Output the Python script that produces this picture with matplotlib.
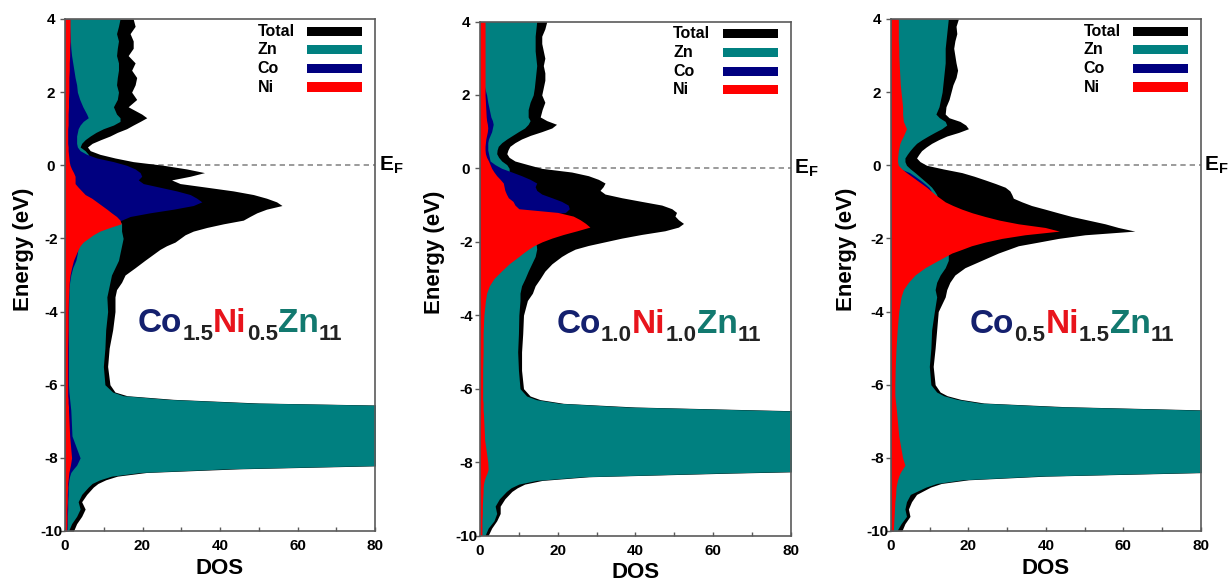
import numpy as np
import matplotlib
matplotlib.use("Agg")
import matplotlib.pyplot as plt
from matplotlib.patches import Rectangle
from matplotlib.transforms import IdentityTransform

plt.rcParams['font.family'] = ['Liberation Sans', 'DejaVu Sans']
plt.rcParams['font.weight'] = 'bold'
plt.rcParams['axes.unicode_minus'] = False
plt.rcParams['mathtext.fontset'] = 'custom'
plt.rcParams['mathtext.bf'] = 'Liberation Sans:bold'
plt.rcParams['mathtext.rm'] = 'Liberation Sans:bold'

# ---------------- data ----------------
energy = [4.0, 3.8, 3.6, 3.4, 3.2, 3.0, 2.8, 2.6, 2.4, 2.2, 2.0, 1.8, 1.6, 1.4,
          1.3, 1.2, 1.1, 1.0, 0.9, 0.8, 0.7, 0.6, 0.5, 0.4,
          0.3, 0.2, 0.1, 0.0, -0.1, -0.2, -0.3, -0.4, -0.5, -0.6,
          -0.7, -0.8, -0.9, -1.0, -1.1, -1.2, -1.3, -1.4, -1.5, -1.6,
          -1.7, -1.8, -1.9, -2.0, -2.1, -2.2, -2.3, -2.4,
          -2.6, -2.8, -3.0, -3.2, -3.4, -3.6,
          -4.0, -4.5, -5.0, -5.5, -6.0,
          -6.2, -6.3, -6.4, -6.5, -6.6, -6.7,
          -7.4, -8.0,
          -8.2, -8.3, -8.4, -8.5, -8.6, -8.7, -8.8,
          -9.0, -9.2, -9.4, -9.6, -9.8, -10.0]

# Panel 1: Co1.5Ni0.5Zn11
p1_total = [17.6, 18.1, 16.8, 17.6, 17.6, 16.3, 18.1, 17.2, 18.5, 18.1, 17.2, 18.5, 16.3, 19.8,
            21.1, 19.4, 17.6, 15.9, 13.5, 11.6, 9.2, 7.0, 5.8, 6.5,
            9.0, 12.9, 17.6, 25.4, 31.4, 36.0, 32.3, 27.5, 29.7, 36.6,
            43.4, 48.6, 52.0, 54.6, 56.0, 52.0, 49.5, 47.7, 46.0, 40.9,
            36.6, 33.1, 31.0, 29.7, 28.4, 26.2, 24.5, 23.2,
            20.6, 18.1, 15.5, 14.6, 13.3, 12.9,
            12.9, 12.3, 11.4, 11.0, 11.6,
            12.9, 16.0, 28.0, 50.0, 105, 150,
            220, 160,
            88, 45, 21, 13.5, 10.5, 8.5, 7.3,
            5.6, 4.3, 5.2, 4.3, 3.0, 2.2]
p1_zn = [14.2, 13.8, 13.3, 13.8, 13.5, 13.3, 13.8, 13.8, 13.5, 13.3, 13.8, 13.5, 12.5, 13.3,
         14.2, 14.2, 12.5, 9.9, 8.0, 6.5, 5.2, 4.3, 3.9, 5.2,
         6.0, 6.5, 6.5, 6.5, 6.5, 6.5, 6.5, 6.5, 7.0, 7.5,
         8.0, 8.5, 9.0, 9.5, 10.0, 11.0, 12.0, 13.0, 14.0, 14.6,
         14.6, 14.6, 14.8, 15.0, 14.8, 14.6, 14.4, 14.2,
         13.8, 12.9, 12.0, 11.6, 11.2, 10.8,
         11.0, 10.5, 10.3, 9.9, 10.3,
         12.3, 15.0, 26.5, 48, 102, 145,
         210, 150,
         85, 42, 19.5, 12.0, 9.0, 7.0, 6.0,
         4.3, 3.4, 3.9, 3.0, 1.7, 0.9]
p1_co = [1.2, 1.2, 1.3, 1.4, 1.5, 1.7, 2.0, 2.3, 2.6, 3.0, 3.2, 3.8, 4.6, 5.6,
         6.0, 4.7, 3.9, 3.4, 3.2, 3.0, 3.0, 3.0, 3.2, 3.9,
         5.6, 8.2, 12.5, 15.9, 18.1, 19.4, 19.8, 18.9, 20.2, 24.5,
         28.8, 32.3, 34.0, 35.3, 33.1, 28.0, 21.9, 16.8, 14.6, 12.0,
         8.0, 6.0, 5.0, 4.0, 3.7, 3.5, 3.3, 3.2,
         2.8, 2.0, 1.5, 1.2, 1.0, 1.0,
         0.9, 0.9, 0.9, 0.9, 0.9,
         1.0, 1.1, 1.2, 1.3, 1.4, 1.5,
         1.8, 3.9,
         3.0, 2.2, 1.5, 1.2, 1.0, 0.9, 0.8,
         0.8, 0.7, 0.7, 0.6, 0.6, 0.5]
p1_ni = [1.3, 1.3, 1.3, 1.3, 1.2, 1.2, 1.1, 1.1, 1.0, 1.0, 1.0, 0.9, 0.9, 0.8,
         0.8, 0.8, 0.8, 0.7, 0.7, 0.7, 0.7, 0.7, 0.8, 0.8,
         0.9, 1.0, 1.1, 1.3, 1.7, 2.2, 2.6, 2.6, 2.6, 3.4,
         4.3, 5.2, 6.9, 8.2, 9.5, 10.8, 12.0, 13.3, 14.2, 14.5,
         11.6, 9.0, 7.3, 6.0, 4.7, 3.9, 3.4, 3.0,
         2.2, 1.7, 1.3, 1.1, 1.0, 0.9,
         0.8, 0.8, 0.7, 0.7, 0.7,
         0.7, 0.7, 0.8, 0.8, 0.9, 0.9,
         1.2, 1.7,
         1.4, 1.2, 1.0, 0.9, 0.8, 0.7, 0.7,
         0.6, 0.6, 0.5, 0.5, 0.5, 0.4]

# Panel 2: Co1.0Ni1.0Zn11
p2_total = [17.2, 16.7, 15.9, 15.9, 16.3, 16.7, 16.3, 16.7, 16.7, 16.3, 15.9, 16.7, 16.0, 15.5,
            17.2, 19.7, 18.5, 15.9, 13.0, 10.7, 9.0, 7.7, 7.2, 6.9,
            7.5, 9.0, 12.4, 15.9, 23.6, 27.9, 30.5, 32.2, 31.7, 30.9,
            32.2, 36.5, 41.6, 46.8, 49.4, 50.6, 50.2, 51.1, 52.4, 51.1,
            47.6, 41.6, 36.5, 32.2, 27.9, 24.5, 22.6, 21.0,
            18.5, 16.7, 15.5, 14.2, 13.5, 12.2,
            11.2, 11.0, 10.7, 10.7, 11.2,
            12.9, 15.5, 21.5, 40, 80, 130,
            220, 170,
            110, 65, 28, 16, 11.5, 9.6, 8.2,
            6.4, 5.2, 5.2, 4.3, 3.0, 2.1]
p2_zn = [14.6, 14.4, 14.2, 14.2, 14.2, 14.4, 14.6, 14.4, 14.2, 14.0, 13.7, 12.9, 12.4, 12.4,
         12.9, 12.4, 11.5, 9.9, 8.4, 6.9, 5.6, 4.7, 4.4, 4.3,
         4.8, 5.6, 6.9, 7.5, 7.5, 7.5, 7.5, 7.5, 7.5, 7.5,
         8.0, 8.5, 9.0, 9.5, 10.0, 10.5, 11.0, 11.5, 12.0, 12.5,
         13.0, 13.5, 14.0, 14.3, 14.5, 14.6, 14.4, 14.2,
         13.3, 12.4, 11.6, 10.7, 10.3, 10.3,
         10.0, 9.9, 9.7, 9.9, 10.3,
         12.0, 14.5, 20.5, 38, 77, 125,
         210, 160,
         105, 62, 26.5, 14.5, 10.0, 8.0, 6.8,
         5.0, 3.9, 4.3, 3.6, 2.1, 1.3]
p2_co = [1.0, 1.0, 1.0, 1.0, 1.0, 1.0, 1.0, 1.0, 1.0, 1.2, 1.7, 2.0, 2.4, 2.8,
         3.2, 3.4, 3.2, 3.0, 2.6, 2.2, 2.0, 2.0, 2.0, 2.2,
         2.4, 2.6, 3.9, 5.6, 8.2, 10.7, 12.9, 14.6, 14.2, 14.6,
         15.9, 18.5, 21.0, 22.7, 23.0, 22.0, 15.0, 10.0, 8.0, 6.0,
         5.0, 4.0, 3.5, 3.0, 2.5, 2.2, 2.0, 1.8,
         1.5, 1.2, 1.0, 0.9, 0.8, 0.7,
         0.6, 0.6, 0.5, 0.5, 0.5,
         0.5, 0.5, 0.5, 0.6, 0.6, 0.6,
         0.9, 1.4,
         1.2, 1.0, 0.8, 0.6, 0.5, 0.5, 0.5,
         0.5, 0.4, 0.4, 0.4, 0.4, 0.4]
p2_ni = [1.3, 1.3, 1.3, 1.3, 1.3, 1.3, 1.3, 1.3, 1.3, 1.3, 1.3, 1.4, 1.5, 1.6,
         1.7, 1.9, 2.0, 1.9, 1.7, 1.5, 1.4, 1.3, 1.3, 1.4,
         1.7, 2.2, 2.6, 3.0, 3.6, 4.3, 5.2, 6.0, 6.2, 6.4,
         6.8, 7.3, 8.5, 9.0, 10.0, 20.0, 24.0, 25.8, 27.2, 28.3,
         25.0, 21.5, 18.5, 16.0, 14.0, 12.5, 11.2, 10.0,
         7.5, 5.5, 3.6, 2.4, 1.7, 1.4,
         1.0, 0.8, 0.8, 0.7, 0.7,
         0.7, 0.7, 0.8, 0.8, 0.8, 0.9,
         1.2, 2.0,
         2.1, 1.8, 1.4, 1.1, 0.9, 0.8, 0.8,
         0.7, 0.6, 0.6, 0.5, 0.5, 0.5]

# Panel 3: Co0.5Ni1.5Zn11
p3_total = [17.4, 16.8, 17.0, 16.5, 16.2, 16.5, 16.8, 17.2, 16.8, 16.0, 15.5, 15.0, 14.2, 14.0,
            15.0, 17.8, 19.3, 20.0, 17.5, 14.4, 12.3, 10.5, 9.1, 7.9,
            7.2, 6.6, 7.5, 9.2, 13.5, 18.3, 21.5, 24.3, 27.0, 29.5,
            30.7, 31.2, 31.6, 33.8, 36.3, 39.8, 43.2, 46.7, 51.0, 55.3,
            58.7, 63.0, 50.1, 43.2, 38.1, 32.9, 30.3, 27.7,
            23.4, 19.1, 16.5, 15.2, 14.4, 14.0,
            12.2, 11.8, 11.4, 10.9, 11.4,
            12.7, 14.5, 18.0, 24.0, 45, 85,
            230, 190,
            140, 110, 82, 40, 20, 13, 10.2,
            6.6, 5.3, 4.5, 4.9, 3.6, 2.8]
p3_zn = [14.8, 14.6, 14.4, 14.2, 14.0, 14.0, 14.0, 13.8, 13.6, 13.4, 13.2, 12.8, 12.4, 11.6,
         12.5, 14.0, 14.4, 13.1, 11.3, 9.6, 8.0, 6.6, 5.7, 4.9,
         4.2, 3.6, 3.6, 4.0, 5.0, 6.2, 7.3, 8.4, 9.5, 10.5,
         11.2, 11.8, 12.0, 12.3, 12.6, 13.0, 13.3, 13.6, 13.9, 14.2,
         14.4, 14.6, 14.7, 14.8, 14.8, 14.8, 14.8, 14.8,
         14.8, 14.0, 12.7, 11.8, 11.4, 11.8,
         11.2, 10.5, 10.3, 9.9, 10.3,
         11.8, 13.6, 17.0, 22.8, 43, 82,
         220, 180,
         135, 106, 79, 38, 18.5, 11.8, 9.0,
         5.0, 4.0, 3.6, 4.0, 2.6, 1.5]
p3_co = [1.0, 1.0, 1.0, 1.0, 1.0, 1.0, 1.0, 1.0, 1.0, 1.0, 1.0, 1.0, 1.0, 1.0,
         1.0, 1.0, 1.0, 1.0, 1.0, 1.0, 1.0, 1.0, 1.0, 1.0,
         1.0, 1.0, 1.1, 1.5, 2.5, 4.8, 6.2, 7.5, 8.7, 9.8,
         10.4, 9.0, 7.0, 5.0, 4.0, 3.5, 3.0, 2.8, 2.6, 2.4,
         2.2, 2.0, 1.9, 1.8, 1.7, 1.6, 1.5, 1.4,
         1.2, 1.0, 0.9, 0.8, 0.7, 0.6,
         0.5, 0.5, 0.5, 0.5, 0.5,
         0.5, 0.5, 0.5, 0.5, 0.5, 0.5,
         0.8, 1.2,
         1.2, 1.0, 0.8, 0.6, 0.5, 0.5, 0.5,
         0.5, 0.5, 0.5, 0.5, 0.5, 0.5]
p3_ni = [1.9, 1.9, 1.9, 1.9, 2.0, 2.0, 2.1, 2.2, 2.3, 2.4, 2.6, 2.8, 3.0, 3.0,
         3.1, 3.2, 3.6, 4.0, 3.6, 3.2, 2.7, 2.3, 2.1, 1.9,
         1.8, 1.7, 1.7, 1.9, 2.8, 4.0, 5.3, 6.6, 7.9, 9.2,
         10.3, 11.4, 12.7, 14.0, 16.0, 18.3, 21.0, 24.3, 28.0, 32.9,
         39.8, 43.5, 34.6, 28.6, 24.3, 20.8, 18.3, 15.7,
         12.2, 8.8, 6.2, 4.5, 3.2, 2.6,
         2.0, 1.6, 1.3, 1.1, 1.0,
         1.0, 1.0, 1.1, 1.2, 1.3, 1.4,
         2.0, 3.0,
         3.6, 3.0, 2.4, 2.0, 1.7, 1.5, 1.3,
         1.2, 1.0, 0.9, 0.8, 0.7, 0.6]

series_names = ['Total', 'Zn', 'Co', 'Ni']
series_colors = ['#000000', '#008080', '#000080', '#ff0000']

panels = [
    {'data': [p1_total, p1_zn, p1_co, p1_ni], 'formula': [('Co', '1.5'), ('Ni', '0.5'), ('Zn', '11')]},
    {'data': [p2_total, p2_zn, p2_co, p2_ni], 'formula': [('Co', '1.0'), ('Ni', '1.0'), ('Zn', '11')]},
    {'data': [p3_total, p3_zn, p3_co, p3_ni], 'formula': [('Co', '0.5'), ('Ni', '1.5'), ('Zn', '11')]},
]
formula_colors = {'Co': '#14206e', 'Ni': '#e8141c', 'Zn': '#12796f'}
sub_color = '#222222'

x_ticks_major = [0, 20, 40, 60, 80]
x_ticks_minor = [10, 30, 50, 70]
y_ticks = [-10, -8, -6, -4, -2, 0, 2, 4]

# ---------------- layout ----------------
W, H = 1229, 581
fig = plt.figure(figsize=(W / 100, H / 100), dpi=100)

axes_rect = [
    [65 / W, (H - 531) / H, 310 / W, 512 / H],
    [480 / W, (H - 535.5) / H, 310.7 / W, 514 / H],
    [891 / W, (H - 531) / H, 309.7 / W, 512 / H],
]
ylabel_x = [-0.10, -0.114, -0.11]
formula_pos = [(0.235, 0.389), (0.247, 0.393), (0.255, 0.386)]

spine_col = '#5a5a5a'
E = np.array(energy)

axes = []
for i, pnl in enumerate(panels):
    ax = fig.add_axes(axes_rect[i])
    axes.append(ax)
    ax.axhline(0, color='#8a8a8a', lw=1.2, ls=(0, (3.2, 2.4)), zorder=1)
    for k, (vals, col) in enumerate(zip(pnl['data'], series_colors)):
        ax.fill_betweenx(E, 0, np.array(vals), color=col, lw=0, zorder=2 + k)
    ax.set_xlim(0, 80)
    ax.set_ylim(-10, 4)
    ax.set_xticks(x_ticks_major)
    ax.set_xticks(x_ticks_minor, minor=True)
    ax.set_yticks(y_ticks)
    ax.set_yticklabels([str(v) for v in y_ticks])
    ax.tick_params(axis='x', which='both', direction='in', length=3, width=1.0,
                   color=spine_col, labelsize=11, pad=6.0)
    ax.tick_params(axis='y', which='both', direction='out', length=3.5, width=1.0,
                   color=spine_col, labelsize=11, pad=6.5)
    for lab in ax.get_yticklabels():
        lab.set_horizontalalignment('center')
    for sp in ax.spines.values():
        sp.set_color(spine_col)
        sp.set_linewidth(1.2)
        sp.set_zorder(10)
    ax.set_xlabel('DOS', fontsize=16, fontweight='bold')
    ax.set_ylabel('Energy (eV)', fontsize=16, fontweight='bold')
    ax.xaxis.set_label_coords(0.5, -0.052)
    ax.yaxis.set_label_coords(ylabel_x[i], 0.55)
    # E_F label
    ax.text(1.012, 0, r'$\mathbf{E_F}$', transform=ax.get_yaxis_transform(),
            fontsize=15, ha='left', va='center', clip_on=False)
    # legend (text left-aligned, colour bar on the right)
    row_y = [0.976, 0.940, 0.903, 0.867]
    for name, col, yy in zip(series_names, series_colors, row_y):
        ax.text(0.622, yy, name, transform=ax.transAxes, fontsize=11.5,
                fontweight='bold', ha='left', va='center', zorder=20)
        ax.add_patch(Rectangle((0.782, yy - 0.009), 0.176, 0.018, transform=ax.transAxes,
                               facecolor=col, edgecolor='none', zorder=20))

# ---------------- composition labels ----------------
renderer = fig.canvas.get_renderer()
main_size, sub_size, sub_drop = 24, 16, 8
for ax, pnl, (fx, fy) in zip(axes, panels, formula_pos):
    px, py = ax.transAxes.transform((fx, fy))
    for elem, sub in pnl['formula']:
        t = fig.text(px, py, elem, transform=IdentityTransform(), fontsize=main_size,
                     fontweight='bold', color=formula_colors[elem], ha='left', va='baseline')
        px += t.get_window_extent(renderer).width
        t2 = fig.text(px, py - sub_drop, sub, transform=IdentityTransform(), fontsize=sub_size,
                      fontweight='bold', color=sub_color, ha='left', va='baseline')
        px += t2.get_window_extent(renderer).width

fig.savefig('out.png', dpi=100)
